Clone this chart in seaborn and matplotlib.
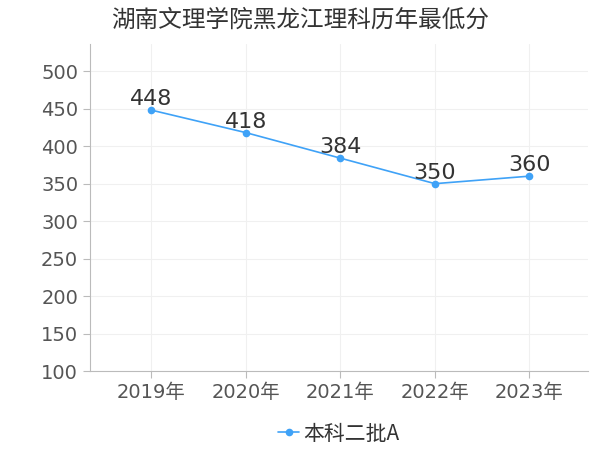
import matplotlib
matplotlib.use('Agg')
import matplotlib.pyplot as plt
import seaborn as sns
import pandas as pd

years = ['2019年', '2020年', '2021年', '2022年', '2023年']
scores = [448, 418, 384, 350, 360]
series_name = '本科二批A'
title = '湖南文理学院黑龙江理科历年最低分'

sns.set_style('white')
plt.rcParams['font.family'] = ['DejaVu Sans', 'Noto Sans CJK SC']
cjk = ['Noto Sans CJK SC', 'DejaVu Sans']

df = pd.DataFrame({'year': years, 'score': scores})

fig = plt.figure(figsize=(6, 4.5), dpi=100)
ax = fig.add_axes([0.15, 0.175, 0.83, 0.727])

color = '#3fa2f7'
sns.lineplot(data=df, x='year', y='score', ax=ax, color=color, marker='o',
             markersize=5.5, markeredgewidth=0, linewidth=1.2, label=series_name, sort=False)

for i, v in enumerate(scores):
    ax.text(i, v + 1, str(v), ha='center', va='bottom', fontsize=16, color='#333333')

ax.set_xlim(-0.65, 4.62)
ax.set_ylim(100, 536)
ax.set_yticks(range(100, 501, 50))
ax.grid(True, color='#f0f0f0', linewidth=0.8)
ax.set_xlabel('')
ax.set_ylabel('')
for s in ['top', 'right']:
    ax.spines[s].set_visible(False)
for s in ['left', 'bottom']:
    ax.spines[s].set_color('#bbbbbb')
ax.tick_params(axis='both', colors='#bbbbbb', labelcolor='#555555', labelsize=14,
               length=5, direction='out', left=True, bottom=True)

fig.suptitle(title, x=0.5, y=0.98, fontsize=17, color='#333333', family=cjk)
ax.legend(loc='upper center', bbox_to_anchor=(0.5, -0.1), frameon=False,
          prop={'family': cjk, 'size': 15}, handlelength=1.0, handletextpad=0.2,
          labelcolor='#333333')

fig.savefig('out.png', dpi=100)
